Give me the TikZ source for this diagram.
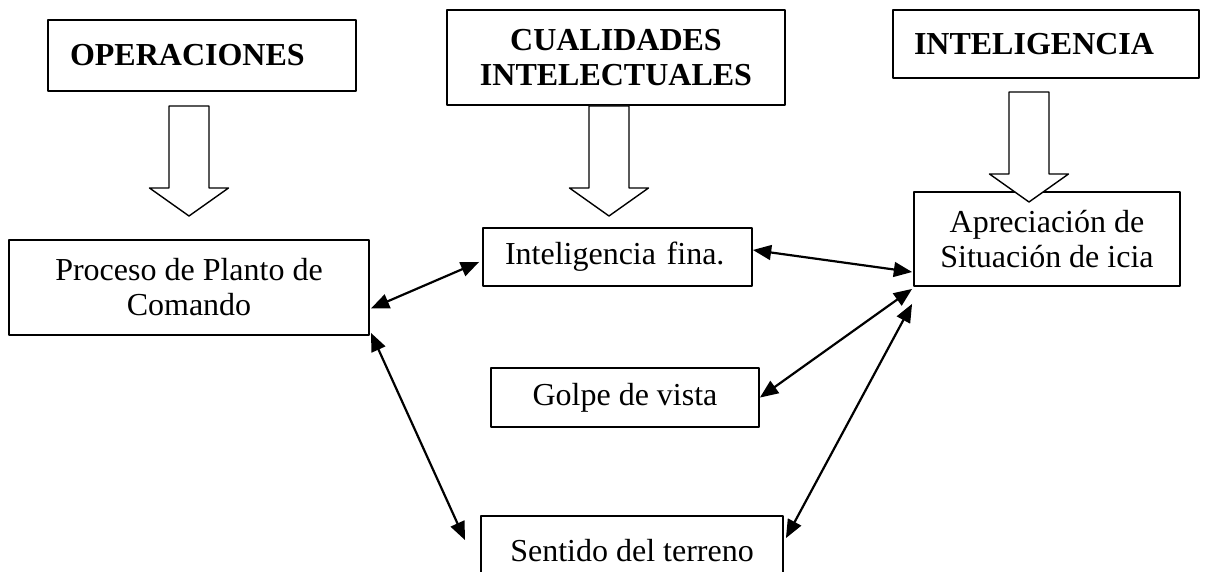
\documentclass[tikz,border=0pt]{standalone}
\usepackage{fontspec}
\setmainfont{Liberation Serif}
\usepackage{tikz}
\usetikzlibrary{calc}
\usetikzlibrary{arrows}
\tikzstyle{every node}=[font=\fontsize{16}{17.5}\selectfont]
\tikzstyle{caja}=[draw, line width=1pt, inner ysep=0pt, align=center]
\tikzstyle{titulo}=[caja, font=\fontsize{16}{17.5}\selectfont\bfseries]
\tikzstyle{flecha}=[<->, line width=1.1pt]
\tikzset{bigarrow/.pic={
  \draw [line width=0.7pt, fill=white] (-20,0) -- (-20,82) -- (-39.5,82) -- (0,110) -- (39.5,82) -- (20,82) -- (20,0) -- cycle;
}}

\begin{document}
\begin{tikzpicture}[line cap=round,line join=round,>=triangle 45,x=0.5pt,y=-0.5pt]
                    \useasboundingbox (0,0) rectangle (1206,572);
                    \clip (0,0) rectangle (1206,572);
                    % titulos
                    \node [titulo, minimum height=35.5pt, text width=132pt, inner xsep=11pt, align=left] (ops) at (202,55.5) {OPERACIONES};
                    \node [titulo, minimum width=169pt, minimum height=47.5pt] (cual) at (616,57.5) {CUALIDADES\\INTELECTUALES};
                    \node [titulo, minimum height=34pt, text width=132pt, inner xsep=10.5pt, align=left] (intel) at (1046,44) {INTELIGENCIA};
                    % cajas
                    \node [caja, minimum width=180pt, minimum height=47.5pt] (proc) at (189,287.5) {Proceso de Planto de\\Comando};
                    \node [caja, minimum height=29pt, text width=112.5pt, inner xsep=11pt, align=left] (fina) at (617.5,257) {Inteligencia fina.};
                    \node [caja, minimum width=134pt, minimum height=29.5pt] (golpe) at (625,397.5) {Golpe de vista};
                    \node [caja, minimum width=151pt, minimum height=35pt] (sent) at (632,551) {Sentido del terreno};
                    \node [caja, minimum width=133pt, minimum height=47pt] (apre) at (1047,239) {Apreciaci\'on de\\Situaci\'on de icia};
                    % flechas huecas
                    \coordinate (a1) at ($(proc.north |- ops.south)+(0,14)$);
                    \coordinate (a2) at ($(cual.south)+(-7,0)$);
                    \coordinate (a3) at ($(intel.south)+(-17,13)$);
                    \pic at (a1) {bigarrow};
                    \pic at (a2) {bigarrow};
                    \pic at (a3) {bigarrow};
                    % relaciones
                    \draw [flecha] ($(proc.east)+(1,21)$) -- ($(fina.west)+(-3,5)$);
                    \draw [flecha] ($(proc.south east)+(1,-3)$) -- ($(sent.west)+(-15,-11)$);
                    \draw [flecha] ($(fina.east)+(0,-7)$) -- ($(apre.west)+(-1,33)$);
                    \draw [flecha] (golpe.east) -- ($(apre.south west)+(-1,2)$);
                    \draw [flecha] ($(sent.east)+(2,-13)$) -- ($(apre.south west)+(-1,17)$);
                    \end{tikzpicture}
\end{document}
